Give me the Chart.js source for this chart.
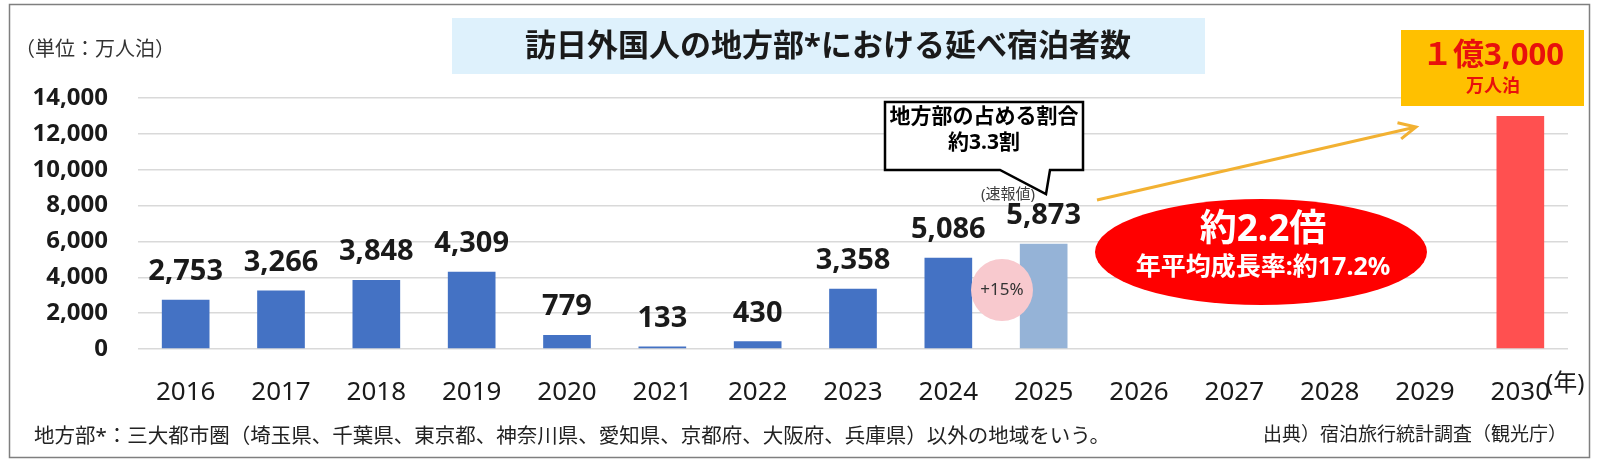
<!DOCTYPE html>
<html lang="ja">
<head>
  <meta charset="UTF-8">
  <title>訪日外国人の地方部における延べ宿泊者数</title>
  <script src="https://cdn.jsdelivr.net/npm/chart.js"></script>
  <style>
    body { margin: 0; background: #fff; }
    #wrap { width: 1600px; height: 462px; }
  </style>
</head>
<body>
  <div id="wrap"><canvas id="stays-chart" width="1600" height="462"></canvas></div>

  <script>
    // 訪日外国人の地方部における延べ宿泊者数（万人泊）
    const years = ["2016", "2017", "2018", "2019", "2020", "2021", "2022", "2023",
                   "2024", "2025", "2026", "2027", "2028", "2029", "2030"];
    const stays = [2753, 3266, 3848, 4309, 779, 133, 430, 3358,
                   5086, 5873, null, null, null, null, 13000];
    // actual = 確定値, preliminary = 速報値, target = 目標
    const status = ["actual", "actual", "actual", "actual", "actual", "actual", "actual", "actual",
                    "actual", "preliminary", null, null, null, null, "target"];
    const yTicks = [0, 2000, 4000, 6000, 8000, 10000, 12000, 14000];

    const FONT = "'Noto Sans', 'Noto Sans CJK JP', sans-serif";
    const barColors = { actual: "#4472C4", preliminary: "#95B3D7", target: "#FF5050" };

    function text(ctx, s, x, y, font, color, align) {
      ctx.font = font + " " + FONT;
      ctx.fillStyle = color;
      ctx.textAlign = align || "center";
      ctx.textBaseline = "middle";
      ctx.fillText(s, x, y);
    }

    // frame, title and unit behind the chart
    const background = {
      id: "background",
      beforeDraw(chart) {
        const ctx = chart.ctx;
        ctx.save();
        ctx.fillStyle = "#fff";
        ctx.fillRect(0, 0, chart.width, chart.height);
        ctx.strokeStyle = "#7F7F7F";
        ctx.lineWidth = 1.5;
        ctx.strokeRect(9.5, 4.5, 1580, 453);

        ctx.fillStyle = "#DEF1FC";
        ctx.fillRect(452, 18, 753, 56);
        text(ctx, "訪日外国人の地方部*における延べ宿泊者数", 828, 47, "bold 31px", "#1a1a1a");
        text(ctx, "（単位：万人泊）", 15, 50, "20px", "#333", "left");
        ctx.restore();
      }
    };

    // labels and callouts on top of the bars
    const annotations = {
      id: "annotations",
      afterDatasetsDraw(chart) {
        const ctx = chart.ctx;
        const meta = chart.getDatasetMeta(0);
        ctx.save();

        // callout box
        ctx.beginPath();
        ctx.moveTo(885, 102);
        ctx.lineTo(1083, 102);
        ctx.lineTo(1083, 170);
        ctx.lineTo(1050, 170);
        ctx.lineTo(1046, 194);
        ctx.lineTo(1000, 170);
        ctx.lineTo(885, 170);
        ctx.closePath();
        ctx.fillStyle = "#fff";
        ctx.fill();
        ctx.strokeStyle = "#000";
        ctx.lineWidth = 2.5;
        ctx.stroke();
        text(ctx, "地方部の占める割合", 984, 117, "bold 21px", "#000");
        text(ctx, "約3.3割", 984, 143, "bold 21px", "#000");
        text(ctx, "(速報値)", 1008, 195, "15px", "#404040");

        // growth arrow
        const x0 = 1097, y0 = 200, x1 = 1416, y1 = 127;
        const ang = Math.atan2(y1 - y0, x1 - x0);
        ctx.strokeStyle = "#F2B132";
        ctx.lineWidth = 3;
        ctx.beginPath();
        ctx.moveTo(x0, y0);
        ctx.lineTo(x1, y1);
        ctx.moveTo(x1 - 19 * Math.cos(ang - 0.45), y1 - 19 * Math.sin(ang - 0.45));
        ctx.lineTo(x1, y1);
        ctx.lineTo(x1 - 19 * Math.cos(ang + 0.45), y1 - 19 * Math.sin(ang + 0.45));
        ctx.stroke();

        // red ellipse
        ctx.fillStyle = "#FF0000";
        ctx.beginPath();
        ctx.ellipse(1261, 252, 166, 53, 0, 0, Math.PI * 2);
        ctx.fill();
        text(ctx, "約2.2倍", 1263, 230, "bold 37px", "#fff");
        text(ctx, "年平均成長率:約17.2%", 1263, 268, "bold 25px", "#fff");

        // +15% circle
        ctx.fillStyle = "#F8C9CE";
        ctx.beginPath();
        ctx.arc(1002, 290, 31, 0, Math.PI * 2);
        ctx.fill();
        text(ctx, "+15%", 1002, 290, "17px", "#333");

        // target box
        ctx.fillStyle = "#FFC000";
        ctx.fillRect(1401, 30, 183, 76);
        text(ctx, "１億3,000", 1493, 56, "bold 31px", "#E8100C");
        text(ctx, "万人泊", 1493, 87, "bold 18px", "#E8100C");

        // value labels
        meta.data.forEach((bar, i) => {
          if (stays[i] == null || status[i] === "target") return;
          text(ctx, stays[i].toLocaleString("en-US"), bar.x, bar.y - 28, "bold 29px", "#1a1a1a");
        });

        // year suffix and notes
        text(ctx, "(年)", 1546, 384, "24px", "#1a1a1a", "left");
        text(ctx, "地方部*：三大都市圏（埼玉県、千葉県、東京都、神奈川県、愛知県、京都府、大阪府、兵庫県）以外の地域をいう。",
             34, 437, "20.5px", "#222", "left");
        text(ctx, "出典）宿泊旅行統計調査（観光庁）", 1567, 436, "19px", "#222", "right");
        ctx.restore();
      }
    };

    new Chart(document.getElementById("stays-chart"), {
      type: "bar",
      data: {
        labels: years,
        datasets: [{
          data: stays,
          backgroundColor: status.map(s => barColors[s] || "#4472C4"),
          barPercentage: 0.5,
          categoryPercentage: 1.0
        }]
      },
      options: {
        responsive: false,
        animation: false,
        layout: { padding: { top: 98, right: 32, bottom: 0, left: 0 } },
        plugins: { legend: { display: false }, tooltip: { enabled: false } },
        scales: {
          x: {
            grid: { display: false },
            border: { display: false },
            ticks: { font: { family: FONT, size: 26 }, color: "#1a1a1a", padding: 20, maxRotation: 0, autoSkip: false },
            afterFit: s => { s.height = 113; }
          },
          y: {
            min: 0,
            max: 14000,
            afterBuildTicks: s => { s.ticks = yTicks.map(v => ({ value: v })); },
            grid: { color: "#D9D9D9", lineWidth: 1.5, drawTicks: false },
            border: { display: false },
            ticks: {
              font: { family: FONT, size: 24, weight: "bold" },
              color: "#1a1a1a",
              padding: 30,
              callback: v => v.toLocaleString("en-US")
            },
            afterFit: s => { s.width = 138; }
          }
        }
      },
      plugins: [background, annotations]
    });
  </script>
</body>
</html>
